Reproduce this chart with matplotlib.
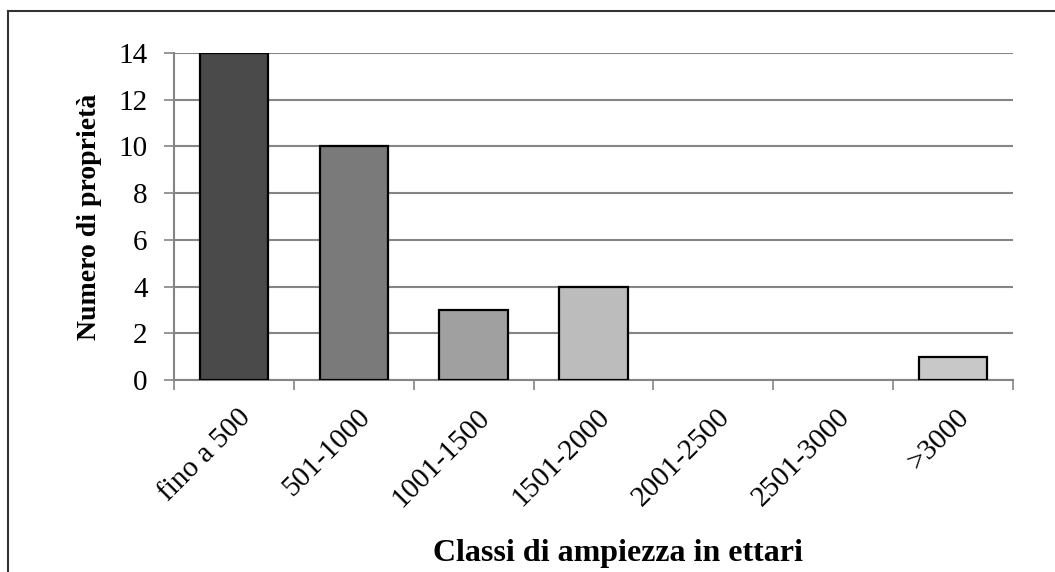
import numpy as np
import matplotlib.pyplot as plt
from matplotlib.lines import Line2D
from matplotlib.transforms import ScaledTranslation

# data
classes = ['fino a 500', '501-1000', '1001-1500', '1501-2000',
           '2001-2500', '2501-3000', '>3000']
counts = [14, 10, 3, 4, 0, 0, 1]
bar_colors = ['#4a4a4a', '#7a7a7a', '#a0a0a0', '#bcbcbc',
              '#c4c4c4', '#c4c4c4', '#c8c8c8']
y_ticks = [0, 2, 4, 6, 8, 10, 12, 14]

plt.rcParams['font.family'] = ['Liberation Serif', 'DejaVu Serif']

fig = plt.figure(figsize=(10.55, 5.72), dpi=100)
ax = fig.add_axes([0.165, 0.3357, 0.795, 0.5716])

x = np.arange(len(classes))
# empty classes get no outline, like in the original
edge_w = [1.6 if c > 0 else 0 for c in counts]
ax.bar(x, counts, width=0.57, color=bar_colors, edgecolor='black',
       linewidth=edge_w, zorder=3)

ax.set_xlim(-0.5, len(classes) - 0.5)
ax.set_ylim(0, 14)
ax.set_yticks(y_ticks)
ax.yaxis.grid(True, color='#858585', linewidth=1.5, zorder=0)
ax.tick_params(axis='y', length=7, width=1.2, color='#858585',
               labelsize=21, pad=12)

# category ticks between bars, labels at the centres
ax.set_xticks(np.arange(len(classes) + 1) - 0.5)
ax.set_xticklabels([])
ax.tick_params(axis='x', which='major', length=7, width=1.2,
               color='#858585')
ax.set_xticks(x, minor=True)
ax.set_xticklabels(classes, minor=True, rotation=45, ha='right',
                   va='center', rotation_mode='anchor', fontsize=21)
ax.tick_params(axis='x', which='minor', length=0, pad=24)
shift = ScaledTranslation(9 / 72, 0, fig.dpi_scale_trans)
for lbl in ax.get_xticklabels(minor=True):
    lbl.set_transform(lbl.get_transform() + shift)

for side in ['top', 'right']:
    ax.spines[side].set_visible(False)
for side in ['left', 'bottom']:
    ax.spines[side].set_color('#858585')
    ax.spines[side].set_linewidth(1.5)

ax.set_ylabel('Numero di proprietà', fontsize=20, fontweight='bold',
              labelpad=12)
fig.text(0.586, 0.033, 'Classi di ampiezza in ettari', fontsize=23,
         fontweight='bold', ha='center', va='center')

# outer frame (cut off at right and bottom)
fx = 7.5 / 1055
fy = 1 - 10.5 / 572
fig.add_artist(Line2D([fx, fx], [0, fy], color='#333333', linewidth=1.5))
fig.add_artist(Line2D([fx, 1], [fy, fy], color='#333333', linewidth=1.5))

fig.savefig('out.png', dpi=100)
